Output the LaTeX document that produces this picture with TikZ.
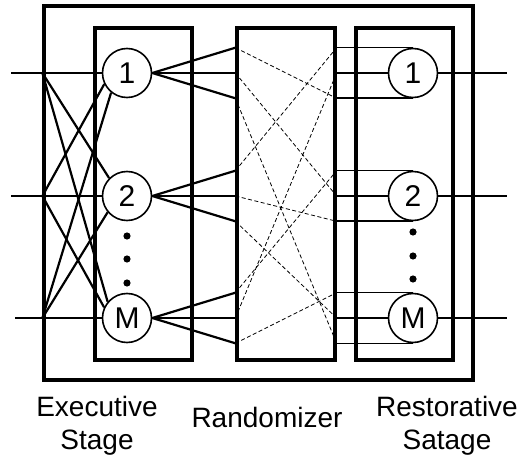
\documentclass[tikz,border=0pt]{standalone}
\usepackage{fontspec}
\setmainfont{Liberation Sans}
\usetikzlibrary{positioning}

\begin{document}
\begin{tikzpicture}[x=1pt,y=-1pt,
    stagebox/.style={draw,line width=3.2pt,minimum width=97pt,minimum height=332pt,inner sep=0pt},
    unit/.style={circle,draw,line width=1.6pt,fill=white,minimum size=49pt,inner sep=0pt,font=\fontsize{30}{36}\selectfont},
    wire/.style={line width=2.2pt},
    thinwire/.style={line width=1.6pt},
    mix/.style={line width=0.8pt,dash pattern=on 4pt off 2.5pt},
    caption/.style={align=center,anchor=base,font=\fontsize{28}{33}\selectfont}]
\useasboundingbox (0,0) rectangle (525,457);

% Frame and the three stages
\node[stagebox,minimum width=429pt,minimum height=374pt] (frame) at (258.5,193) {};
\node[stagebox] (exec) at (143.5,194) {};
\node[stagebox,minimum width=98pt] (rand) at (286,194) {};
\node[stagebox] (rest) at (404.5,194) {};

% Units
\node[unit] (e1) at (127,73) {1};
\node[unit] (e2) at (127,196) {2};
\node[unit] (eM) at (127,318) {M};
\node[unit] (r1) at (413,73) {1};
\node[unit] (r2) at (413,196) {2};
\node[unit] (rM) at (413,318) {M};
\foreach \y in {236,259,283} {
    \fill (127,\y) circle (3.6pt);
}
\foreach \y in {232,256,279} {
    \fill (413,\y) circle (3.6pt);
}

% Inputs and outputs
\coordinate (in1) at (11,73);
\coordinate (in2) at (11,196);
\coordinate (inM) at (15,318);
\foreach \n in {1,2,M} {
    \coordinate (x\n) at (frame.west |- e\n);
    \coordinate (out\n) at (507,0 |- e\n);
    \draw[wire] (in\n) -- (e\n.west);
    \draw[wire] (r\n.east) -- (out\n);
}

% Executive stage - crossed inputs
\draw[wire] (x1) -- (e2.135);
\draw[wire] (x1) -- (eM.140);
\draw[wire] (x2) -- (e1.206);
\draw[wire] (x2) -- (eM.155);
\draw[wire] (xM) -- (e1.231);
\draw[wire] (xM) -- (e2.220);

% Ports on the randomizer
\foreach \n in {1,2,M} {
    \coordinate (p\n a) at (rand.west |- e\n.north);
    \coordinate (p\n b) at (rand.west |- e\n);
    \coordinate (p\n c) at (rand.west |- e\n.south);
    \coordinate (q\n a) at (rand.east |- r\n.north);
    \coordinate (q\n b) at (rand.east |- r\n);
    \coordinate (q\n c) at (rand.east |- r\n.south);
    \foreach \s in {a,b,c} {
        \draw[wire] (e\n.east) -- (p\n\s);
    }
    \draw[thinwire] (q\n a) -- (r\n.north);
    \draw[wire] (q\n b) -- (r\n.west);
    \draw[thinwire] (q\n c) -- (r\n.south);
}

% Randomizer - permutation
\foreach \a/\b in {1a/1c, 1b/2b, 1c/Mc, 2a/1a, 2b/2c, 2c/Mb, Ma/2a, Mb/1b, Mc/Ma} {
    \draw[mix] (p\a) -- (q\b);
}

% Captions
\node[caption] (capexec) at (97,449) {Executive\\Stage};
\node[caption] (caprand) at (267,427) {Randomizer};
\node[caption] (caprest) at (447,449) {Restorative\\Satage};
\end{tikzpicture}
\end{document}
